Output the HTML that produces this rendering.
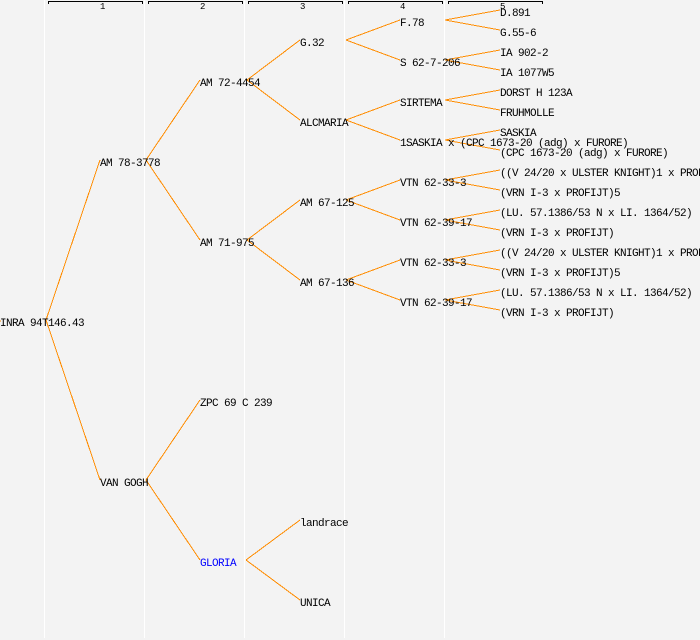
<!DOCTYPE html>
<html><head><meta charset="utf-8"><style>
html,body{margin:0;padding:0;background:#f3f3f3;}
svg{display:block;}
.t{font-family:"Liberation Mono",monospace;font-size:11px;letter-spacing:-0.6px;fill:#000;}
.h{font-family:"Liberation Mono",monospace;font-size:9px;fill:#000;}
</style></head><body>
<svg width="700" height="640" viewBox="0 0 700 640" xmlns="http://www.w3.org/2000/svg">
<rect x="0" y="0" width="700" height="640" fill="#f3f3f3"/>
<g fill="#ffffff">
<rect x="44" y="0" width="1" height="638"/>
<rect x="144" y="0" width="1" height="638"/>
<rect x="244" y="0" width="1" height="638"/>
<rect x="344" y="0" width="1" height="638"/>
<rect x="444" y="0" width="1" height="638"/>
</g>
<g fill="#000">
<rect x="48" y="1" width="95" height="1"/><rect x="48" y="1" width="1" height="3"/><rect x="142" y="1" width="1" height="3"/>
<rect x="148" y="1" width="95" height="1"/><rect x="148" y="1" width="1" height="3"/><rect x="242" y="1" width="1" height="3"/>
<rect x="248" y="1" width="95" height="1"/><rect x="248" y="1" width="1" height="3"/><rect x="342" y="1" width="1" height="3"/>
<rect x="348" y="1" width="95" height="1"/><rect x="348" y="1" width="1" height="3"/><rect x="442" y="1" width="1" height="3"/>
<rect x="448" y="1" width="95" height="1"/><rect x="448" y="1" width="1" height="3"/><rect x="542" y="1" width="1" height="3"/>
</g>
<g class="h">
<text x="100" y="9">1</text>
<text x="200" y="9">2</text>
<text x="300" y="9">3</text>
<text x="400" y="9">4</text>
<text x="500" y="9">5</text>
</g>
<g stroke="#ff8c00" stroke-width="1" fill="none" shape-rendering="crispEdges">
<line x1="-5" y1="321" x2="1" y2="321"/>
<line x1="46" y1="320" x2="100" y2="160"/>
<line x1="46" y1="320" x2="100" y2="480"/>
<line x1="146" y1="160" x2="200" y2="80"/>
<line x1="146" y1="160" x2="200" y2="240"/>
<line x1="146" y1="480" x2="200" y2="400"/>
<line x1="146" y1="480" x2="200" y2="560"/>
<line x1="247" y1="80" x2="300" y2="40"/>
<line x1="247" y1="80" x2="300" y2="120"/>
<line x1="247" y1="240" x2="300" y2="200"/>
<line x1="247" y1="240" x2="300" y2="280"/>
<line x1="246" y1="560" x2="300" y2="520"/>
<line x1="246" y1="560" x2="300" y2="600"/>
<line x1="346" y1="40" x2="400" y2="20"/>
<line x1="346" y1="40" x2="400" y2="60"/>
<line x1="346" y1="120" x2="400" y2="100"/>
<line x1="346" y1="120" x2="400" y2="140"/>
<line x1="346" y1="200" x2="400" y2="180"/>
<line x1="346" y1="200" x2="400" y2="220"/>
<line x1="346" y1="280" x2="400" y2="260"/>
<line x1="346" y1="280" x2="400" y2="300"/>
<line x1="445" y1="20" x2="500" y2="10"/>
<line x1="445" y1="20" x2="500" y2="30"/>
<line x1="445" y1="60" x2="500" y2="50"/>
<line x1="445" y1="60" x2="500" y2="70"/>
<line x1="445" y1="100" x2="500" y2="90"/>
<line x1="445" y1="100" x2="500" y2="110"/>
<line x1="445" y1="140" x2="500" y2="130"/>
<line x1="445" y1="140" x2="500" y2="150"/>
<line x1="445" y1="180" x2="500" y2="170"/>
<line x1="445" y1="180" x2="500" y2="190"/>
<line x1="445" y1="220" x2="500" y2="210"/>
<line x1="445" y1="220" x2="500" y2="230"/>
<line x1="445" y1="260" x2="500" y2="250"/>
<line x1="445" y1="260" x2="500" y2="270"/>
<line x1="445" y1="300" x2="500" y2="290"/>
<line x1="445" y1="300" x2="500" y2="310"/>
</g>
<g class="t">
<text x="0" y="326">INRA 94T146.43</text>
<text x="100" y="166">AM 78-3778</text>
<text x="100" y="486">VAN GOGH</text>
<text x="200" y="86">AM 72-4454</text>
<text x="200" y="246">AM 71-975</text>
<text x="200" y="406">ZPC 69 C 239</text>
<text x="200" y="566" style="fill:#0000ff">GLORIA</text>
<text x="300" y="46">G.32</text>
<text x="300" y="126">ALCMARIA</text>
<text x="300" y="206">AM 67-125</text>
<text x="300" y="286">AM 67-136</text>
<text x="300" y="526">landrace</text>
<text x="300" y="606">UNICA</text>
<text x="400" y="26">F.78</text>
<text x="400" y="66">S 62-7-206</text>
<text x="400" y="106">SIRTEMA</text>
<text x="400" y="146">1SASKIA x (CPC 1673-20 (adg) x FURORE)</text>
<text x="400" y="186">VTN 62-33-3</text>
<text x="400" y="226">VTN 62-39-17</text>
<text x="400" y="266">VTN 62-33-3</text>
<text x="400" y="306">VTN 62-39-17</text>
<text x="500" y="16">D.891</text>
<text x="500" y="36">G.55-6</text>
<text x="500" y="56">IA 902-2</text>
<text x="500" y="76">IA 1077W5</text>
<text x="500" y="96">DORST H 123A</text>
<text x="500" y="116">FRUHMOLLE</text>
<text x="500" y="136">SASKIA</text>
<text x="500" y="156">(CPC 1673-20 (adg) x FURORE)</text>
<text x="500" y="176">((V 24/20 x ULSTER KNIGHT)1 x PROFIJT)</text>
<text x="500" y="196">(VRN I-3 x PROFIJT)5</text>
<text x="500" y="216">(LU. 57.1386/53 N x LI. 1364/52)</text>
<text x="500" y="236">(VRN I-3 x PROFIJT)</text>
<text x="500" y="256">((V 24/20 x ULSTER KNIGHT)1 x PROFIJT)</text>
<text x="500" y="276">(VRN I-3 x PROFIJT)5</text>
<text x="500" y="296">(LU. 57.1386/53 N x LI. 1364/52)</text>
<text x="500" y="316">(VRN I-3 x PROFIJT)</text>
</g>
</svg>
</body></html>
